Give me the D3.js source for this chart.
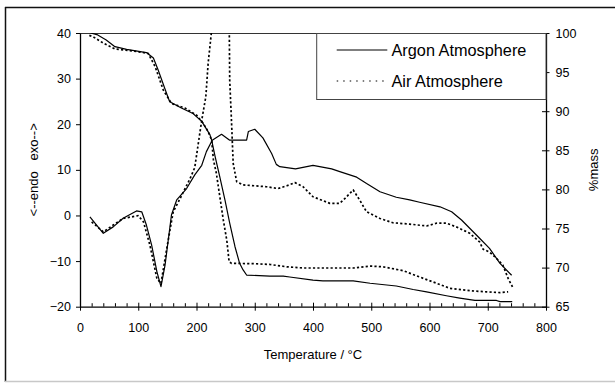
<!DOCTYPE html>
<html>
<head>
<meta charset="utf-8">
<script src="https://cdn.jsdelivr.net/npm/d3@7"></script>
<style>
  html, body { margin: 0; padding: 0; background: #fff; }
  svg { display: block; }
  text { font-family: Arial, "Liberation Sans", sans-serif; fill: #000; }
</style>
</head>
<body>
<svg id="chart" width="615" height="383"></svg>
<script>
// ---- Data ----
// DSC, argon atmosphere (left axis)
const dscArgonT = [17, 40, 57, 74, 97, 106, 114, 123, 132, 139, 146, 157, 166, 183, 197, 209, 217, 227, 243, 257, 286, 289, 300, 314, 329, 337, 343, 370, 400, 432, 446, 475, 492, 515, 543, 566, 583, 618, 638, 655, 669, 686, 703, 721, 741];
const dscArgonV = [-0.3, -3.9, -2.5, -0.6, 1.0, 0.8, -2.1, -6.5, -12.3, -15.6, -10.9, 0.1, 3.4, 5.9, 8.9, 11.0, 14.0, 16.5, 17.8, 16.5, 16.5, 18.4, 18.9, 17.0, 13.6, 11.2, 10.7, 10.2, 11.0, 10.2, 9.6, 8.4, 7.0, 5.2, 4.0, 3.4, 2.9, 1.9, 0.8, -1.0, -2.8, -5.0, -7.2, -10.5, -13.1];
// DSC, air atmosphere (left axis)
const dscAirT = [20, 40, 57, 74, 100, 109, 120, 132, 139, 149, 160, 172, 189, 197, 209, 216, 220, 226, 229, 256, 257, 260, 263, 269, 280, 320, 340, 355, 369, 383, 400, 429, 446, 455, 469, 480, 492, 515, 537, 566, 595, 612, 629, 646, 669, 686, 692, 703, 715, 726, 735, 743];
const dscAirV = [-1.4, -3.6, -2.1, -0.65, -0.05, -1.4, -6.5, -13.8, -14.9, -7.2, 0.8, 3.75, 8.1, 10.5, 20.9, 26.0, 33.4, 40.6, 45, 45, 29.7, 20.9, 11.4, 7.4, 6.7, 6.3, 5.9, 6.5, 7.2, 6.3, 4.1, 2.65, 2.65, 3.75, 5.6, 3.4, 0.8, -0.65, -1.6, -1.9, -2.3, -1.7, -1.7, -2.5, -3.9, -5.8, -7.4, -8.0, -9.4, -10.9, -13.8, -15.8];
// TGA, argon atmosphere (right axis, %mass)
const tgaArgonT = [18, 29, 45, 60, 80, 114, 126, 134, 149, 154, 174, 194, 209, 223, 226, 232, 240, 249, 257, 266, 274, 280, 286, 326, 349, 360, 400, 417, 469, 498, 543, 572, 595, 629, 652, 678, 715, 721, 742];
const tgaArgonV = [100, 99.8, 99.1, 98.25, 97.9, 97.5, 96.8, 95.3, 92.2, 91.2, 90.4, 89.7, 88.7, 87.0, 86.3, 84.2, 81.6, 78.6, 75.7, 72.7, 70.55, 69.7, 69.05, 68.9, 68.9, 68.8, 68.4, 68.3, 68.3, 68.0, 67.65, 67.2, 66.9, 66.4, 66.1, 65.8, 65.8, 65.65, 65.65];
// TGA, air atmosphere (right axis, %mass)
const tgaAirT = [16, 23, 40, 60, 91, 117, 129, 143, 157, 180, 200, 211, 220, 226, 229, 234, 240, 246, 252, 256, 260, 300, 326, 355, 383, 469, 498, 520, 555, 583, 612, 635, 669, 698, 721, 735];
const tgaAirV = [99.7, 99.5, 98.7, 97.95, 97.7, 97.4, 95.7, 92.7, 91.0, 90.4, 89.5, 88.5, 87.4, 86.3, 83.8, 82.1, 79.1, 76.1, 73.5, 70.75, 70.55, 70.5, 70.4, 70.1, 69.95, 69.95, 70.2, 70.1, 69.6, 68.8, 68.0, 67.35, 67.05, 66.9, 66.8, 66.9];

const xTicks = [0, 100, 200, 300, 400, 500, 600, 700, 800];
const xMinorTicks = d3.range(0, 801, 20).filter(v => v % 100 !== 0);
const leftTicks = [-20, -10, 0, 10, 20, 30, 40];
const rightTicks = [65, 70, 75, 80, 85, 90, 95, 100];
const legendLabels = ["Argon Atmosphere", "Air Atmosphere"];
const xTitle = "Temperature / °C";
const leftTitle = "<--endo   exo-->";
const rightTitle = "%mass";

// ---- Layout ----
const svg = d3.select("#chart");
const L = 80, R = 546, T = 33, B = 306.7;

const x = d3.scaleLinear().domain([0, 800]).range([L, R]);
const yL = d3.scaleLinear().domain([-20, 40]).range([B, T]);
const yR = d3.scaleLinear().domain([65, 100]).range([B, T]);

// outer chart frame
svg.append("line").attr("x1", 5).attr("x2", 615).attr("y1", 7.5).attr("y2", 7.5)
  .attr("stroke", "#111").attr("stroke-width", 1.5);
svg.append("line").attr("x1", 5.5).attr("x2", 5.5).attr("y1", 7).attr("y2", 382)
  .attr("stroke", "#111").attr("stroke-width", 1.5);
svg.append("line").attr("x1", 5).attr("x2", 615).attr("y1", 381.5).attr("y2", 381.5)
  .attr("stroke", "#c8c8c8").attr("stroke-width", 1.5);

// clip
svg.append("clipPath").attr("id", "plotclip")
  .append("rect").attr("x", L).attr("y", T).attr("width", R - L).attr("height", B - T);

// plot top border
svg.append("line").attr("x1", L).attr("x2", R).attr("y1", T + 0.5).attr("y2", T + 0.5)
  .attr("stroke", "#333").attr("stroke-width", 1);

// series lines
const series = [
  { t: dscArgonT, v: dscArgonV, y: yL, dash: null },
  { t: dscAirT, v: dscAirV, y: yL, dash: "2.2,2.2" },
  { t: tgaArgonT, v: tgaArgonV, y: yR, dash: null },
  { t: tgaAirT, v: tgaAirV, y: yR, dash: "2.2,2.2" }
];
const g = svg.append("g").attr("clip-path", "url(#plotclip)");
series.forEach(s => {
  const pts = s.t.map((t, i) => [t, s.v[i]]);
  const line = d3.line().x(d => x(d[0])).y(d => s.y(d[1]));
  g.append("path").datum(pts)
    .attr("d", line)
    .attr("fill", "none")
    .attr("stroke", "#000")
    .attr("stroke-width", s.dash ? 1.7 : 1.2)
    .attr("stroke-dasharray", s.dash)
    .attr("stroke-linejoin", "round");
});

// axes
const fontSize = 12.5;
// bottom major
const axB = svg.append("g").attr("transform", `translate(0,${B})`)
  .call(d3.axisBottom(x).tickValues(xTicks).tickSizeInner(4).tickSizeOuter(0).tickPadding(6));
axB.selectAll(".tick line").attr("y1", -4).attr("y2", 4);
axB.selectAll(".tick text").attr("y", 16).attr("font-size", fontSize).attr("font-family", "Arial, 'Liberation Sans', sans-serif");
// bottom minor
const axBm = svg.append("g").attr("transform", `translate(0,${B})`)
  .call(d3.axisBottom(x).tickValues(xMinorTicks).tickSize(-3.5).tickFormat(""));
axBm.select(".domain").remove();

// left axis
const axL = svg.append("g").attr("transform", `translate(${L},0)`)
  .call(d3.axisLeft(yL).tickValues(leftTicks).tickSizeInner(4).tickSizeOuter(0).tickPadding(5));
axL.selectAll(".tick text").attr("x", -9).attr("font-size", fontSize).attr("font-family", "Arial, 'Liberation Sans', sans-serif");

// right axis
const axR = svg.append("g").attr("transform", `translate(${R},0)`)
  .call(d3.axisRight(yR).tickValues(rightTicks).tickSizeInner(4).tickSizeOuter(0));
axR.selectAll(".tick line").attr("x1", -4).attr("x2", 3.5);
axR.selectAll(".tick text").attr("x", 9.5).attr("font-size", fontSize).attr("font-family", "Arial, 'Liberation Sans', sans-serif");

[axB, axBm, axL, axR].forEach(a => {
  a.selectAll("path.domain").attr("stroke", "#000").attr("stroke-width", 1.3);
  a.selectAll(".tick line").attr("stroke", "#000").attr("stroke-width", 1);
});

// axis titles
svg.append("text").attr("x", (L + R) / 2).attr("y", 358.5)
  .attr("text-anchor", "middle").attr("font-size", 13).text(xTitle);
svg.append("text")
  .attr("transform", `translate(38,${(T + B) / 2}) rotate(-90)`)
  .attr("text-anchor", "middle").attr("font-size", 13)
  .style("white-space", "pre").text(leftTitle);
svg.append("text")
  .attr("transform", `translate(597.5,${(T + B) / 2}) rotate(-90)`)
  .attr("text-anchor", "middle").attr("font-size", 13).text(rightTitle);

// legend
const lg = svg.append("g");
lg.append("rect").attr("x", 316.7).attr("y", 33.5).attr("width", R - 316.7).attr("height", 66)
  .attr("fill", "#fff").attr("stroke", "#444").attr("stroke-width", 1);
const legendDash = [null, "1.5,5"];
legendLabels.forEach((lab, i) => {
  const cy = 50 + i * 31;
  lg.append("line").attr("x1", 336.7).attr("x2", 387.3).attr("y1", cy).attr("y2", cy)
    .attr("stroke", "#000").attr("stroke-width", 1.1).attr("stroke-dasharray", legendDash[i]);
  lg.append("text").attr("x", 391.5).attr("y", cy).attr("dy", "0.36em")
    .attr("font-size", 16.3).text(lab);
});
</script>
</body>
</html>
